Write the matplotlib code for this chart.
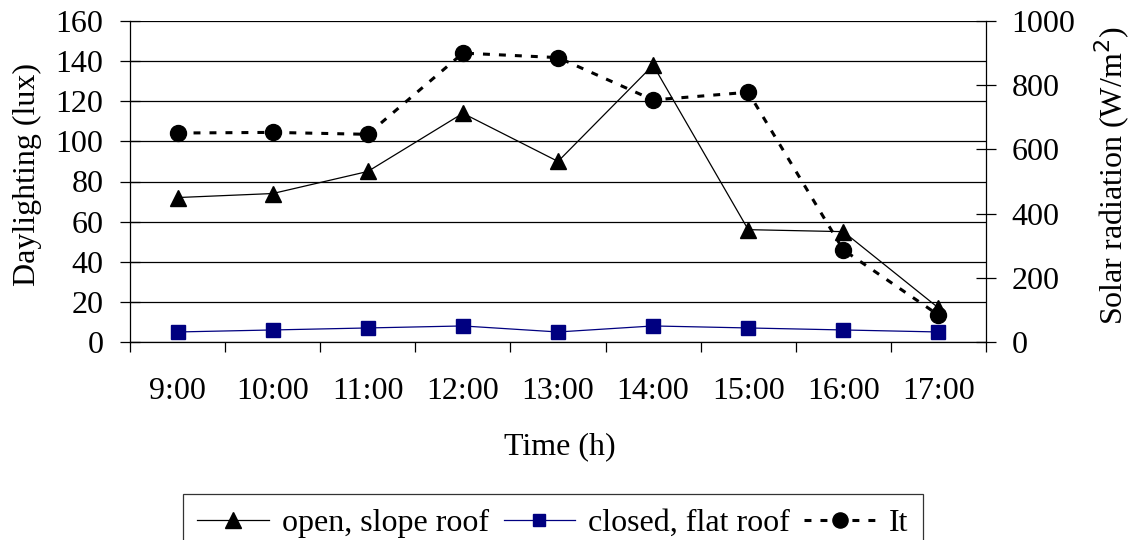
import matplotlib
matplotlib.use("Agg")
import matplotlib.pyplot as plt
from matplotlib.ticker import MultipleLocator, FixedLocator

# Hourly measurements
hours = ["9:00", "10:00", "11:00", "12:00", "13:00", "14:00", "15:00", "16:00", "17:00"]
open_slope_roof = [72, 74, 85, 114, 90, 138, 56, 55, 17]      # lux
closed_flat_roof = [5, 6, 7, 8, 5, 8, 7, 6, 5]                # lux
solar_it = [651, 653, 647, 900, 886, 754, 778, 287, 84]       # W/m2

plt.rcParams["font.family"] = ["Liberation Serif", "DejaVu Serif"]
plt.rcParams["lines.scale_dashes"] = False
FS = 23

fig = plt.figure(figsize=(11.43, 5.40), dpi=100)
ax = fig.add_axes([130 / 1143, 1 - 342 / 540, 856 / 1143, 321 / 540])
ax2 = ax.twinx()

x = list(range(len(hours)))

# Left axis: daylighting
l1, = ax.plot(x, open_slope_roof, color="black", lw=0.9, marker="^",
              ms=12, mfc="black", mec="black", zorder=4)
l2, = ax.plot(x, closed_flat_roof, color="#000080", lw=0.9, marker="s",
              ms=9.5, mfc="#000080", mec="#000080", zorder=4)
# Right axis: solar radiation
l3, = ax2.plot(x, solar_it, color="black", lw=2.2, linestyle=(0, (5, 6.5)),
               marker="o", ms=11.5, mfc="black", mec="black", zorder=4)

ax.set_xlim(-0.5, len(hours) - 0.5)
ax.set_ylim(0, 160)
ax2.set_ylim(0, 1000)

ax.yaxis.set_major_locator(MultipleLocator(20))
ax2.yaxis.set_major_locator(MultipleLocator(200))
ax.yaxis.grid(True, color="black", lw=0.9)
ax.set_axisbelow(True)

# Category labels centred, separator ticks between categories
ax.xaxis.set_major_locator(FixedLocator(x))
ax.set_xticklabels(hours)
ax.xaxis.set_minor_locator(FixedLocator([i - 0.5 for i in range(len(hours) + 1)]))
ax.tick_params(axis="x", which="major", length=0, pad=25, labelsize=FS)
ax.tick_params(axis="x", which="minor", length=7.2, width=0.9, direction="out",
               color="black")
ax.tick_params(axis="y", length=14.4, width=0.9, direction="inout", pad=12,
               labelsize=FS)
ax2.tick_params(axis="y", length=14.4, width=0.9, direction="inout", pad=11,
                labelsize=FS)

for a in (ax, ax2):
    a.spines["top"].set_visible(False)
    for s in a.spines.values():
        s.set_linewidth(0.9)
ax2.spines["left"].set_visible(False)
ax2.spines["bottom"].set_visible(False)
ax.spines["right"].set_visible(False)

fig.text(560 / 1143, 1 - 447 / 540, "Time (h)", ha="center", va="center",
         fontsize=FS)
fig.text(27 / 1143, 1 - 175 / 540, "Daylighting (lux)", ha="center",
         va="center", rotation=90, fontsize=FS)
fig.text(1112 / 1143, 1 - 176 / 540, "Solar radiation (W/m$^2$)", ha="center",
         va="center", rotation=90, fontsize=FS)

leg = fig.legend([l1, l2, l3], ["open, slope roof", "closed, flat roof", "It"],
                 loc="upper left", bbox_to_anchor=(183 / 1143, 1 - 494 / 540),
                 ncol=3, fontsize=FS, frameon=True, fancybox=False,
                 edgecolor="black", handlelength=2.25, handletextpad=0.4,
                 columnspacing=0.45, borderpad=0.45, borderaxespad=0,
                 markerscale=0.95)
leg.get_frame().set_linewidth(0.9)

fig.savefig("out.png", dpi=100, facecolor="white")
